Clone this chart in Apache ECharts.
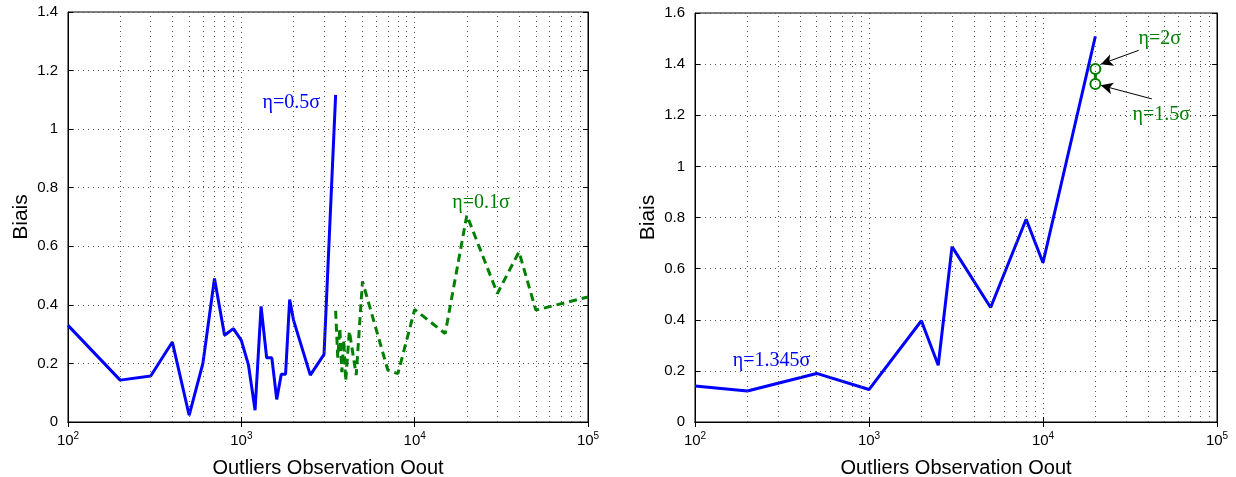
<!DOCTYPE html>
<html><head><meta charset="utf-8">
<script src="https://cdn.jsdelivr.net/npm/echarts@6/dist/echarts.min.js"></script>
<style>html,body{margin:0;padding:0;background:#fff}#c{width:1236px;height:477px}</style>
</head><body><div id="c"></div>
<script>
// ---- data ----
const leftBlueX = [100,200,300,400,500,600,700,800,900,1000,1100,1200,1300,1400,1500,1600,1700,1800,1900,2000,2500,3000,3500];
const leftBlueY = [0.33,0.143,0.157,0.273,0.023,0.2,0.49,0.296,0.319,0.279,0.194,0.04,0.395,0.219,0.219,0.077,0.163,0.163,0.418,0.348,0.16,0.231,1.117];
const leftGreenX = [3500,3600,3700,3800,3900,4000,4200,4600,5000,7000,8000,10000,15000,20000,30000,40000,50000,100000];
const leftGreenY = [0.38,0.22,0.32,0.17,0.28,0.14,0.31,0.16,0.48,0.177,0.165,0.384,0.302,0.706,0.439,0.581,0.382,0.427];
const rightBlueX = [100,200,500,1000,2000,2500,3000,5000,8000,10000,20000];
const rightBlueY = [0.141,0.121,0.19,0.127,0.396,0.222,0.686,0.448,0.793,0.623,1.509];
const rightGreenX = [20000,20000];
const rightGreenY = [1.381,1.322];
const minorGridX = [200,300,400,500,600,700,800,900,2000,3000,4000,5000,6000,7000,8000,9000,20000,30000,40000,50000,60000,70000,80000,90000];
const xTitle = 'Outliers Observation Oout';
const yTitle = 'Biais';
const leftLabels = [{t:'η=0.5σ', x:1941, y:1.089, c:'#0000ff'}, {t:'η=0.1σ', x:24150, y:0.747, c:'#008000'}];
const rightLabels = [{t:'η=1.345σ', x:275, y:0.239, c:'#0000ff'}, {t:'η=2σ', x:46900, y:1.499, c:'#008000'}, {t:'η=1.5σ', x:47900, y:1.201, c:'#008000'}];
const rightArrows = [[[35500,1.454],[21500,1.400]], [[42200,1.264],[21500,1.317]]];

const pairs = (xs, ys) => xs.map((x,i)=>[x, ys[i]]);
const BLUE = '#0000ff', GREEN = '#008000';
const dotted = {type:[1,4], color:'#555', width:1};
const sansF = 'Liberation Sans';

function xAxes(gi) {
  return [{
    type:'log', logBase:10, min:100, max:100000, gridIndex:gi, position:'bottom',
    axisLine:{show:true, lineStyle:{color:'#000', width:1}},
    axisTick:{show:true, inside:true, length:5, lineStyle:{color:'#000'}},
    axisLabel:{margin:9, formatter:v=>'{b|10}{s|'+Math.round(Math.log10(v))+'}',
      rich:{b:{fontSize:15, fontFamily:sansF, color:'#000', lineHeight:20}, s:{fontSize:10, fontFamily:sansF, color:'#000', lineHeight:10, verticalAlign:'top'}}},
    splitLine:{show:true, lineStyle:dotted},
    name:xTitle, nameLocation:'middle', nameGap:36,
    nameTextStyle:{fontSize:20, fontFamily:sansF, color:'#000'}
  },{
    type:'log', logBase:10, min:100, max:100000, gridIndex:gi, position:'top',
    axisLine:{show:true, lineStyle:{color:'#000'}},
    axisTick:{show:true, inside:true, length:5, lineStyle:{color:'#000'}},
    axisLabel:{show:false}, splitLine:{show:false}
  }];
}
function yAxes(gi, max) {
  return [{
    type:'value', min:0, max:max, interval:0.2, gridIndex:gi, position:'left',
    axisLine:{show:true, lineStyle:{color:'#000'}},
    axisTick:{show:true, inside:true, length:5, lineStyle:{color:'#000'}},
    axisLabel:{margin:10, fontSize:15, fontFamily:sansF, color:'#000',
      formatter:v=>String(Math.round(v*10)/10)},
    splitLine:{show:true, lineStyle:dotted},
    name:yTitle, nameLocation:'middle', nameGap:36, nameRotate:90,
    nameTextStyle:{fontSize:21, fontFamily:sansF, color:'#000'}
  },{
    type:'value', min:0, max:max, interval:0.2, gridIndex:gi, position:'right',
    axisLine:{show:true, lineStyle:{color:'#000'}},
    axisTick:{show:true, inside:true, length:5, lineStyle:{color:'#000'}},
    axisLabel:{show:false}, splitLine:{show:false}
  }];
}
function minorGrid(xi, yi) {
  return {type:'line', xAxisIndex:xi, yAxisIndex:yi, data:[], silent:true, z:1,
    markLine:{silent:true, symbol:['none','none'], animation:false, label:{show:false},
      lineStyle:dotted, data:minorGridX.map(v=>({xAxis:v}))}};
}
function labelPoints(list) {
  return list.map(l=>({coord:[l.x,l.y], symbol:'circle', symbolSize:1, itemStyle:{color:'rgba(0,0,0,0)'},
    label:{show:true, position:'inside', formatter:l.t, color:l.c, fontSize:20, fontFamily:'Liberation Serif'}}));
}

const chart = echarts.init(document.getElementById('c'), null, {renderer:'canvas'});
chart.setOption({
  animation:false,
  backgroundColor:'#fff',
  grid:[
    {left:68, top:12, width:520, height:410, show:true, borderColor:'#000', borderWidth:1, containLabel:false, outerBoundsMode:'none'},
    {left:695, top:13, width:522, height:409, show:true, borderColor:'#000', borderWidth:1, containLabel:false, outerBoundsMode:'none'}
  ],
  xAxis:[...xAxes(0), ...xAxes(1)],
  yAxis:[...yAxes(0,1.4), ...yAxes(1,1.6)],
  series:[
    minorGrid(0,0), minorGrid(2,2),
    {type:'line', xAxisIndex:0, yAxisIndex:0, data:pairs(leftBlueX,leftBlueY), showSymbol:false, z:3,
      lineStyle:{color:BLUE, width:3}, itemStyle:{color:BLUE},
      markPoint:{silent:true, animation:false, data:labelPoints(leftLabels)}},
    {type:'line', xAxisIndex:0, yAxisIndex:0, data:pairs(leftGreenX,leftGreenY), showSymbol:false, z:3,
      lineStyle:{color:GREEN, width:3, type:[8,5]}, itemStyle:{color:GREEN}},
    {type:'line', xAxisIndex:2, yAxisIndex:2, data:pairs(rightBlueX,rightBlueY), showSymbol:false, z:3,
      lineStyle:{color:BLUE, width:3}, itemStyle:{color:BLUE},
      markPoint:{silent:true, animation:false, data:labelPoints(rightLabels)}},
    {type:'line', xAxisIndex:2, yAxisIndex:2, data:pairs(rightGreenX,rightGreenY), z:4,
      symbol:'emptyCircle', symbolSize:10, showSymbol:true, showAllSymbol:true,
      lineStyle:{color:GREEN, width:3}, itemStyle:{color:GREEN, borderColor:GREEN, borderWidth:2.5},
      markLine:{silent:true, animation:false, symbol:['none','arrow'], symbolSize:[9,12], label:{show:false},
        lineStyle:{color:'#000', width:1, type:'solid'},
        data:rightArrows.map(a=>[{coord:a[0]},{coord:a[1]}])}}
  ]
});
</script></body></html>
